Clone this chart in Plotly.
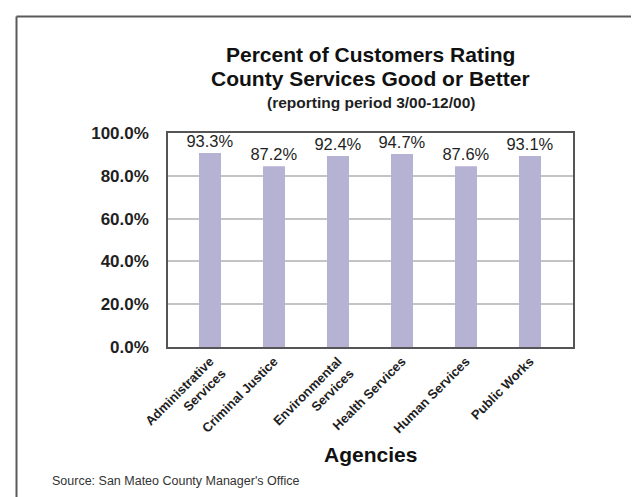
import plotly.graph_objects as go

# ---- data ----
agencies = [
    "Administrative<br>Services",
    "Criminal Justice",
    "Environmental<br>Services",
    "Health Services",
    "Human Services",
    "Public Works",
]
# values printed above the bars
percent_good = [93.3, 87.2, 92.4, 94.7, 87.6, 93.1]
# bar heights as drawn in the source graphic (read against the y axis)
bar_heights = [90.7, 84.5, 89.2, 90.2, 84.5, 89.2]
y_tick_values = [0, 20, 40, 60, 80, 100]
y_tick_labels = ["0.0%", "20.0%", "40.0%", "60.0%", "80.0%", "100.0%"]

title_line1 = "Percent of Customers Rating"
title_line2 = "County Services Good or Better"
subtitle = "(reporting period 3/00-12/00)"
x_title = "Agencies"
source_note = "Source: San Mateo County Manager's Office"

FONT = "Liberation Sans, Arial, Helvetica, sans-serif"
TXT = "#1f1f1f"

fig = go.Figure(
    go.Bar(
        x=list(range(len(agencies))),
        y=bar_heights,
        width=0.344,
        marker=dict(color="#b5b2d4", line=dict(width=0)),
        text=[f"{v:.1f}%" for v in percent_good],
        textposition="outside",
        constraintext="none",
        textfont=dict(family=FONT, size=16.5, color=TXT),
        cliponaxis=False,
    )
)

fig.update_layout(
    width=639,
    height=497,
    margin=dict(l=160, r=74, t=125, b=158),
    paper_bgcolor="white",
    plot_bgcolor="white",
    showlegend=False,
    font=dict(family=FONT, color=TXT),
    xaxis=dict(
        range=[-0.656, 5.672],
        tickvals=list(range(len(agencies))),
        ticktext=agencies,
        tickangle=-45,
        tickfont=dict(family=FONT, size=13, color=TXT, weight="bold"),
        showgrid=False,
        showline=True,
        linecolor="#555555",
        linewidth=1.5,
        mirror=True,
        ticks="",
        zeroline=False,
    ),
    yaxis=dict(
        range=[0, 100],
        tickvals=y_tick_values,
        ticktext=y_tick_labels,
        tickfont=dict(family=FONT, size=17, color=TXT, weight="bold"),
        showgrid=True,
        gridcolor="#c4c4c4",
        gridwidth=1.5,
        showline=True,
        linecolor="#555555",
        linewidth=1.5,
        mirror=True,
        ticks="",
        ticklabelstandoff=14,
        zeroline=False,
    ),
    shapes=[
        dict(type="line", xref="paper", yref="paper",
             x0=(8.5 - 160) / 405, x1=(8.5 - 160) / 405,
             y0=(339 - 8.5) / 214, y1=(339 - 497) / 214,
             line=dict(color="#5a5a5a", width=2)),
        dict(type="line", xref="paper", yref="paper",
             x0=(8.5 - 160) / 405, x1=(639 - 160) / 405,
             y0=(339 - 8.5) / 214, y1=(339 - 8.5) / 214,
             line=dict(color="#5a5a5a", width=2)),
    ],
    annotations=[
        dict(text=f"<b>{title_line1}</b>", xref="paper", yref="paper",
             x=0.5, y=(339 - 46) / 214, xanchor="center", yanchor="middle",
             showarrow=False, font=dict(family=FONT, size=21, color="#111")),
        dict(text=f"<b>{title_line2}</b>", xref="paper", yref="paper",
             x=0.5, y=(339 - 70) / 214, xanchor="center", yanchor="middle",
             showarrow=False, font=dict(family=FONT, size=21, color="#111")),
        dict(text=f"<b>{subtitle}</b>", xref="paper", yref="paper",
             x=0.5, y=(339 - 94) / 214, xanchor="center", yanchor="middle",
             showarrow=False, font=dict(family=FONT, size=15.5, color=TXT)),
        dict(text=f"<b>{x_title}</b>", xref="paper", yref="paper",
             x=0.5, y=(339 - 446) / 214, xanchor="center", yanchor="middle",
             showarrow=False, font=dict(family=FONT, size=21, color="#111")),
        dict(text=source_note, xref="paper", yref="paper",
             x=(42 - 160) / 405, y=(339 - 473) / 214, xanchor="left", yanchor="middle",
             showarrow=False, font=dict(family=FONT, size=12.5, color="#333")),
    ],
)

fig.write_html("out.html")
